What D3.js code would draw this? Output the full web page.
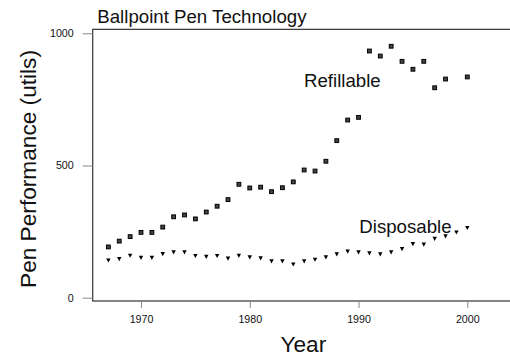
<!DOCTYPE html>
<html>
<head>
<meta charset="utf-8">
<script src="https://cdn.jsdelivr.net/npm/d3@7"></script>
<style>
  html, body { margin: 0; padding: 0; background: #fff; }
  svg { display: block; font-family: "Liberation Sans", Arial, sans-serif; }
</style>
</head>
<body>
<svg id="chart" width="510" height="356"></svg>
<script>
// Ballpoint pen performance by year
const refillableYears = [1967, 1968, 1969, 1970, 1971, 1972, 1973, 1974, 1975, 1976, 1977, 1978, 1979, 1980,
  1981, 1982, 1983, 1984, 1985, 1986, 1987, 1988, 1989, 1990, 1991, 1992, 1993, 1994, 1995, 1996, 1997, 1998, 2000];
const refillableValues = [192, 214, 231, 247, 247, 267, 306, 313, 298, 324, 346, 371, 429, 415,
  418, 401, 416, 438, 483, 479, 516, 594, 672, 682, 933, 914, 951, 894, 864, 894, 794, 827, 835];

const disposableYears = [1967, 1968, 1969, 1970, 1971, 1972, 1973, 1974, 1975, 1976, 1977, 1978, 1979, 1980,
  1981, 1982, 1983, 1984, 1985, 1986, 1987, 1988, 1989, 1990, 1991, 1992, 1993, 1994, 1995, 1996, 1997, 1998, 1999, 2000];
const disposableValues = [141, 146, 159, 151, 151, 165, 172, 172, 158, 155, 158, 148, 159, 153,
  149, 138, 138, 126, 138, 144, 153, 164, 175, 172, 168, 164, 172, 184, 203, 201, 223, 232, 247, 264];

const xTicks = [1970, 1980, 1990, 2000];
const yTicks = [0, 500, 1000];

const svg = d3.select("#chart");

const x = d3.scaleLinear().domain([1970, 2000]).range([141, 467.3]);
const y = d3.scaleLinear().domain([0, 1000]).range([297.7, 33.3]);

const plotLeft = x(1965.56), plotRight = x(2005), plotTop = y(1015), plotBottom = 301;

// plot frame
svg.append("rect")
  .attr("x", plotLeft).attr("y", plotTop)
  .attr("width", plotRight - plotLeft).attr("height", plotBottom - plotTop)
  .attr("fill", "none").attr("stroke", "#333").attr("stroke-width", 1.2);

// axes
const yAxis = svg.append("g")
  .attr("transform", `translate(${plotLeft},0)`)
  .call(d3.axisLeft(y).tickValues(yTicks).tickSize(10).tickPadding(9).tickFormat(d3.format("d")));
const xAxis = svg.append("g")
  .attr("transform", `translate(0,${plotBottom})`)
  .call(d3.axisBottom(x).tickValues(xTicks).tickSize(7).tickPadding(7).tickFormat(d3.format("d")));

[yAxis, xAxis].forEach(g => {
  g.select(".domain").remove();
  g.selectAll(".tick line").attr("stroke", "#888").attr("stroke-width", 1);
  g.selectAll(".tick text").attr("fill", "#111")
    .style("font-family", "'Liberation Sans', Arial, sans-serif").style("font-size", "10.67px");
});

// refillable: squares
svg.append("g").selectAll("rect")
  .data(refillableYears.map((yr, i) => [yr, refillableValues[i]]))
  .join("rect")
  .attr("x", d => x(d[0]) - 1.9)
  .attr("y", d => y(d[1]) - 1.9)
  .attr("width", 3.8).attr("height", 3.8)
  .attr("fill", "#444").attr("stroke", "#000").attr("stroke-width", 1);

// disposable: downward triangles
svg.append("g").selectAll("path")
  .data(disposableYears.map((yr, i) => [yr, disposableValues[i]]))
  .join("path")
  .attr("transform", d => `translate(${x(d[0])},${y(d[1])})`)
  .attr("d", "M-2.2,-2L2.2,-2L0,2.2Z")
  .attr("fill", "#000");

// labels
svg.append("text").attr("x", 97.3).attr("y", 23.3)
  .style("font-size", "18.67px").attr("fill", "#111").text("Ballpoint Pen Technology");

svg.append("text").attr("x", 304).attr("y", 87.3)
  .style("font-size", "18.67px").attr("fill", "#111").text("Refillable");

svg.append("text").attr("x", 359.3).attr("y", 232.7)
  .style("font-size", "18.67px").attr("fill", "#111").text("Disposable");

svg.append("text").attr("x", 303.3).attr("y", 352.3)
  .attr("text-anchor", "middle")
  .style("font-size", "22.67px").attr("fill", "#111").text("Year");

svg.append("text")
  .attr("transform", "translate(36,169) rotate(-90)")
  .attr("text-anchor", "middle")
  .style("font-size", "22.67px").attr("fill", "#111").text("Pen Performance (utils)");
</script>
</body>
</html>
